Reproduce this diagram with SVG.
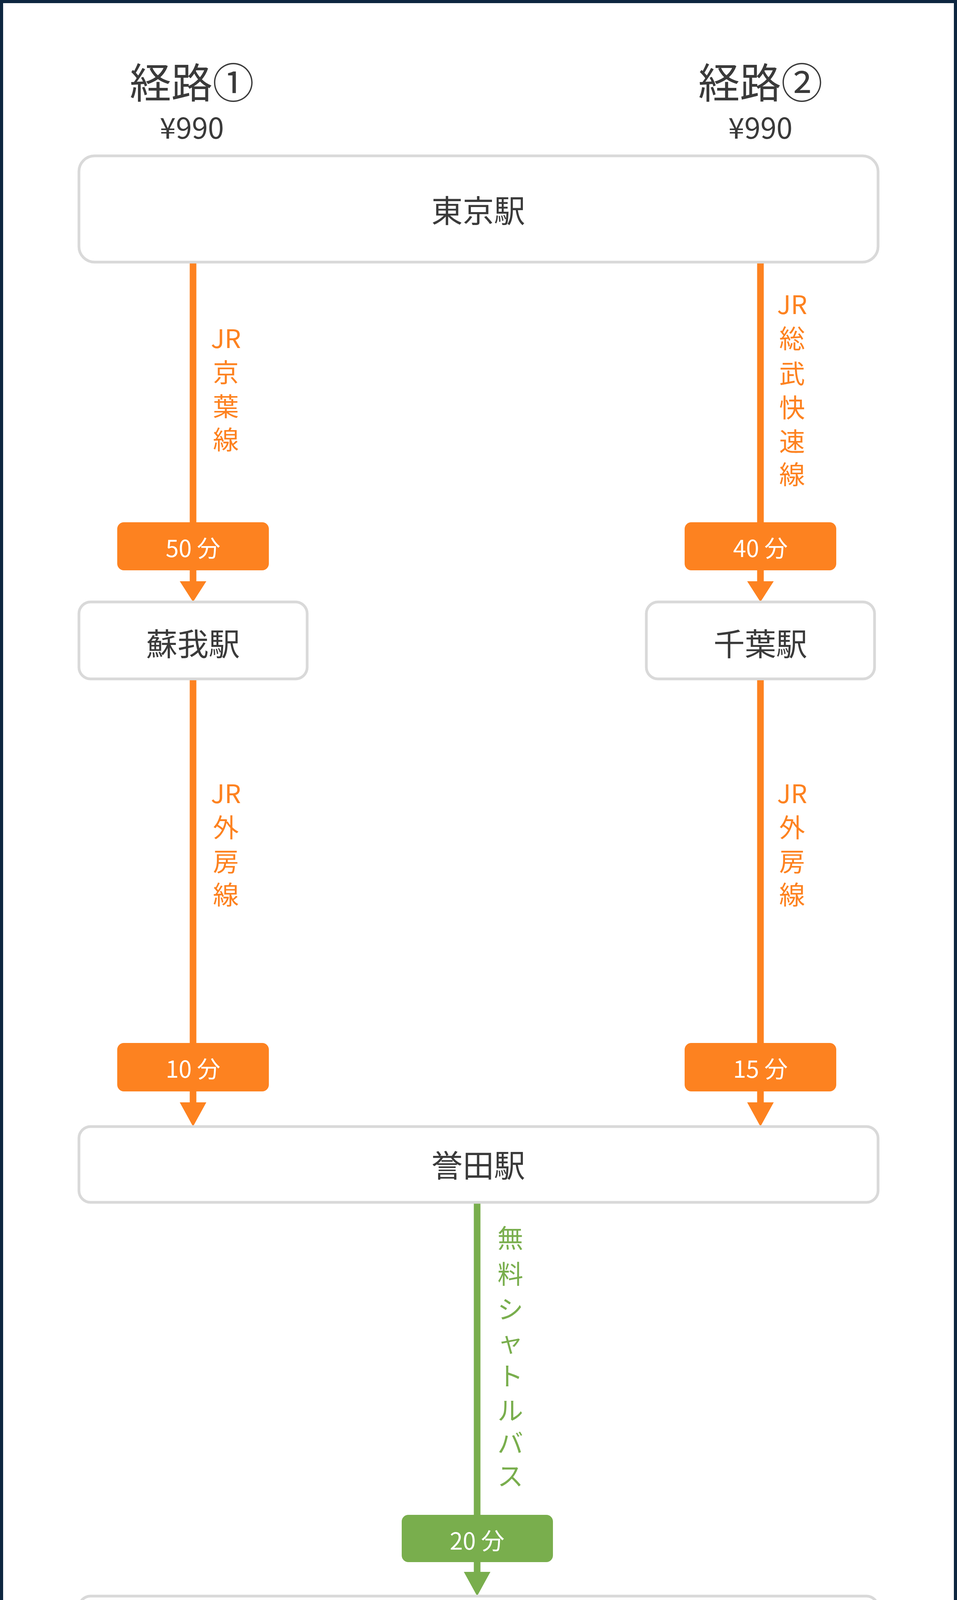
<svg xmlns="http://www.w3.org/2000/svg" width="2449" height="4404" viewBox="0 0 2449 4404">
<style>
text{font-family:"Noto Sans CJK JP","Noto Sans",sans-serif;text-anchor:middle;dominant-baseline:central}
.box{fill:#fff;stroke:#d9d9d9;stroke-width:7}
.n{fill:#3a3a3a;font-size:80px}
.o{fill:#fd8220}.g{fill:#79ae4d}
.lo{fill:#fd8220;font-size:66px}.lg{fill:#79ae4d;font-size:66px}
.bt{fill:#fff;font-size:60px}
.ln{stroke-width:17}
</style>
<rect x="4" y="4" width="2441" height="4396" fill="#fff" stroke="#0d2640" stroke-width="8"/>
<g id="titles">
<text x="491" y="205" class="n" style="font-size:106px">経路①</text>
<text x="491" y="322" class="n" style="font-size:74px">¥990</text>
<text x="1946" y="205" class="n" style="font-size:106px">経路②</text>
<text x="1946" y="322" class="n" style="font-size:74px">¥990</text>
</g>
<g id="connectors">
<line x1="494" y1="671" x2="494" y2="1490" stroke="#fd8220" class="ln"/>
<polygon points="460,1488 528,1488 494,1541" class="o"/>
<line x1="1946" y1="671" x2="1946" y2="1490" stroke="#fd8220" class="ln"/>
<polygon points="1912,1488 1980,1488 1946,1541" class="o"/>
<line x1="494" y1="1738" x2="494" y2="2825" stroke="#fd8220" class="ln"/>
<polygon points="460,2822 528,2822 494,2884" class="o"/>
<line x1="1946" y1="1738" x2="1946" y2="2825" stroke="#fd8220" class="ln"/>
<polygon points="1912,2822 1980,2822 1946,2884" class="o"/>
<line x1="1221" y1="3078" x2="1221" y2="4027" stroke="#79ae4d" class="ln"/>
<polygon points="1187,4024 1255,4024 1221,4086" class="g"/>
<g class="lo">
<text x="578" y="862">JR</text><text x="578" y="949">京</text><text x="578" y="1036">葉</text><text x="578" y="1121">線</text>
<text x="2027" y="775">JR</text><text x="2027" y="862">総</text><text x="2027" y="952">武</text><text x="2027" y="1039">快</text><text x="2027" y="1126">速</text><text x="2027" y="1210">線</text>
<text x="578" y="2027">JR</text><text x="578" y="2114">外</text><text x="578" y="2201">房</text><text x="578" y="2286">線</text>
<text x="2027" y="2027">JR</text><text x="2027" y="2114">外</text><text x="2027" y="2201">房</text><text x="2027" y="2286">線</text>
</g>
<g class="lg">
<text x="1306" y="3165">無</text><text x="1306" y="3257">料</text><text x="1306" y="3347">シ</text><text x="1306" y="3431">ャ</text><text x="1306" y="3518">ト</text><text x="1306" y="3606">ル</text><text x="1306" y="3690">バ</text><text x="1306" y="3774">ス</text>
</g>
<g id="badges">
<rect x="300" y="1337" width="388" height="123" rx="17" class="o"/><text x="494" y="1399" class="bt">50 分</text>
<rect x="1752" y="1337" width="388" height="123" rx="17" class="o"/><text x="1946" y="1399" class="bt">40 分</text>
<rect x="300" y="2670" width="388" height="124" rx="17" class="o"/><text x="494" y="2732" class="bt">10 分</text>
<rect x="1752" y="2670" width="388" height="124" rx="17" class="o"/><text x="1946" y="2732" class="bt">15 分</text>
<rect x="1028" y="3878" width="387" height="121" rx="17" class="g"/><text x="1221" y="3940" class="bt">20 分</text>
</g>
</g>
<g id="tokyo"><rect x="202" y="399" width="2045" height="272" rx="40" class="box"/><text x="1224" y="534" class="n">東京駅</text></g>
<g id="soga"><rect x="202" y="1541" width="584" height="197" rx="30" class="box"/><text x="494" y="1643" class="n">蘇我駅</text></g>
<g id="chiba"><rect x="1654" y="1541" width="584" height="197" rx="30" class="box"/><text x="1946" y="1643" class="n">千葉駅</text></g>
<g id="honda"><rect x="202" y="2884" width="2045" height="194" rx="30" class="box"/><text x="1224" y="2978" class="n">誉田駅</text></g>
<g id="resol"><rect x="202" y="4086" width="2045" height="193" rx="30" class="box"/><text x="1224" y="4184" class="n" style="fill:#79ae4d">リソルの森</text></g>
</svg>
